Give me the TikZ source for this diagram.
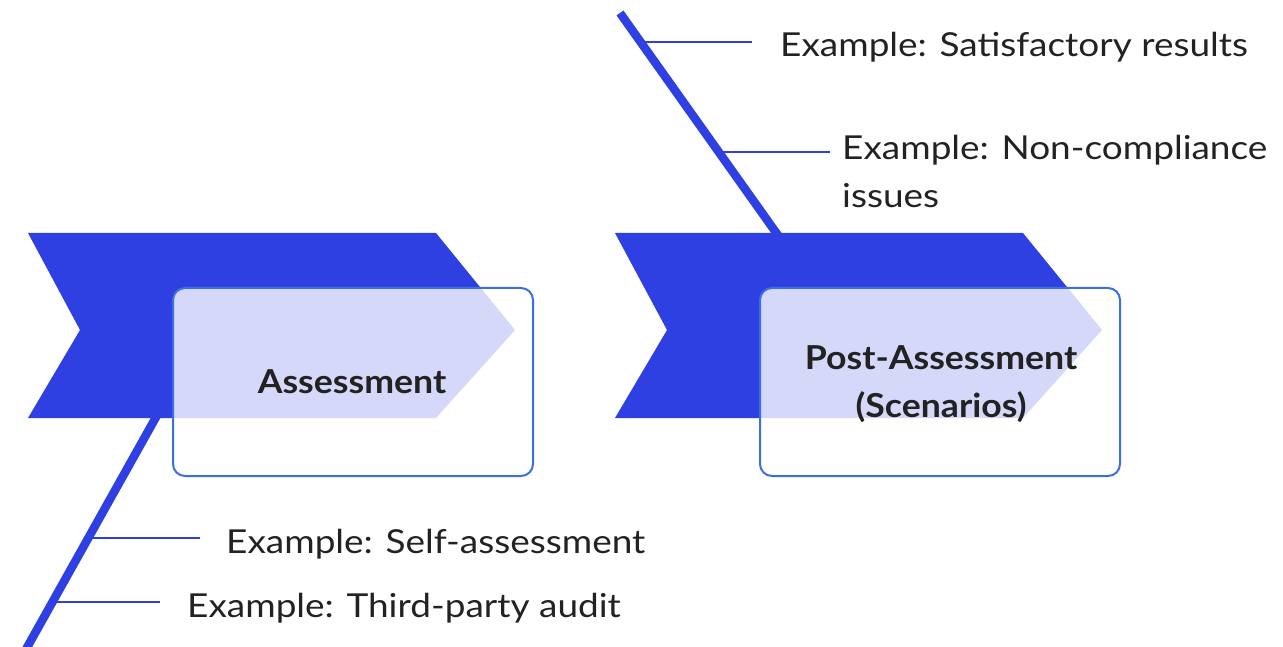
\documentclass[tikz,border=0pt]{standalone}
\usepackage{fontspec}
\setmainfont{Lato}
\newfontfamily\examplefont{Lato}[FakeStretch=1.12]
\newfontfamily\stagefont{Lato}[FakeStretch=1.08]
\usetikzlibrary{calc}
\definecolor{chevblue}{RGB}{47,64,227}
\definecolor{frameblue}{RGB}{60,110,230}
\definecolor{ink}{RGB}{34,34,34}
\tikzset{
  spine/.style={draw=chevblue, line width=8.5pt, line cap=butt},
  twig/.style={draw=chevblue, line width=2.5pt},
  chevron/.style={fill=chevblue, draw=none},
  stagebox/.style={draw=frameblue, line width=2pt, rounded corners=12pt,
    fill=white, fill opacity=0.8, text opacity=1,
    minimum width=360pt, minimum height=188pt, inner sep=0pt},
  stagetitle/.style={font=\stagefont\fontsize{33}{48}\selectfont\bfseries, text=ink,
    align=center, inner sep=0pt},
  example/.style={font=\examplefont\fontsize{33}{48}\selectfont, text=ink,
    align=left, inner sep=0pt, anchor=base west}
}
\begin{document}
\begin{tikzpicture}[x=1pt, y=-1pt]
\useasboundingbox (0,0) rectangle (1283,647);
\clip (0,0) rectangle (1283,647);

% spines (behind the chevrons)
\coordinate (s1top) at (160,410);
\coordinate (s1bot) at (20,660);
\coordinate (s2top) at (620,13);
\coordinate (s2bot) at (782,241);
\draw[spine] (s1top) -- (s1bot);
\draw[spine] (s2top) -- (s2bot);

% chevrons
\path[chevron] (28,233) coordinate (c1) -- (436,233) -- (515,330) -- (436,418)
  -- (28,418) -- (80,330) -- cycle;
\path[chevron] (615,233) coordinate (c2) -- (1023,233) -- (1102,330) -- (1023,418)
  -- (615,418) -- (667,330) -- cycle;

% stage boxes
\node[stagebox] (box1) at (353,382) {};
\node[stagebox] (box2) at (940,382) {};
\node[stagetitle, anchor=base] (title1) at (352,393) {Assessment};
\node[stagetitle, anchor=base] (title2) at (941,417) {Post-Assessment\\(Scenarios)};

% example labels (base anchor sits on the last line)
\node[example] (ex1) at (780,57) {Example: Satisfactory results};
\node[example] (ex2) at (842,208) {Example: Non-compliance\\issues};
\node[example] (ex3) at (226,553) {Example: Self-assessment};
\node[example] (ex4) at (187,617) {Example: Third-party audit};

% branch roots on the spines
\coordinate (r1) at (640.6,42);
\coordinate (r2) at (718.6,152);
\coordinate (r3) at (88,538);
\coordinate (r4) at (52,602);

\draw[twig] (r1) -- ($(r1 -| ex1.west)+(-28,0)$);
\draw[twig] (r2) -- ($(r2 -| ex2.west)+(-12,0)$);
\draw[twig] (r3) -- ($(r3 -| ex3.west)+(-26,0)$);
\draw[twig] (r4) -- ($(r4 -| ex4.west)+(-27,0)$);
\end{tikzpicture}
\end{document}
